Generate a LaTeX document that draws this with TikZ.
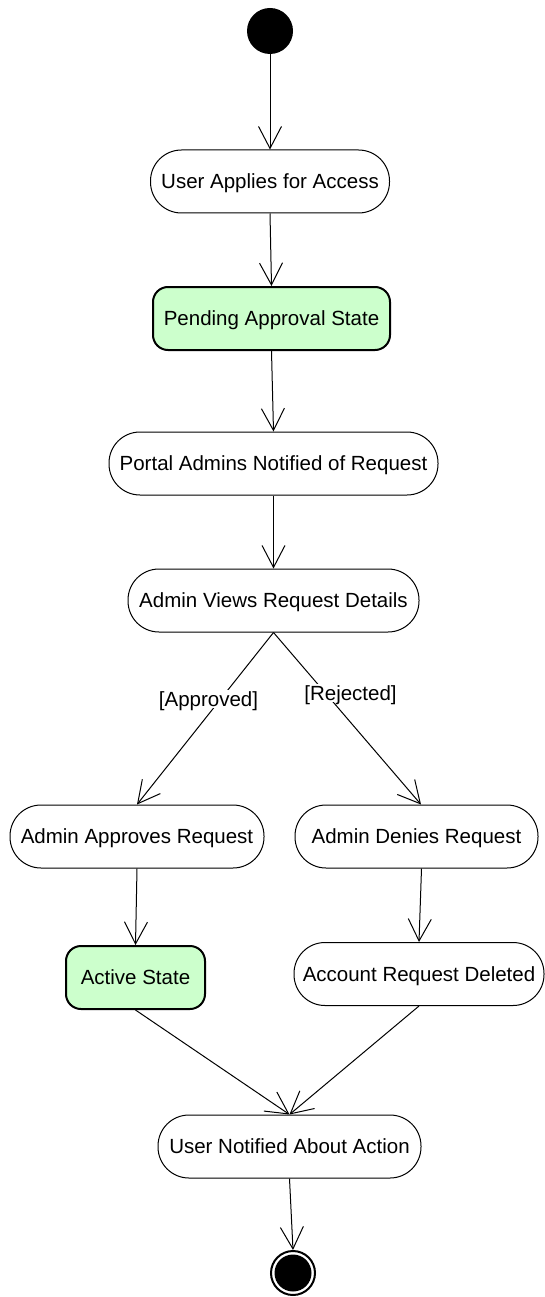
\documentclass[tikz,border=0pt]{standalone}
\usepackage{fontspec}
\setmainfont{Liberation Sans}
\usetikzlibrary{arrows.meta}
\definecolor{stategreen}{RGB}{204,255,204}
\tikzset{
  labelfont/.style={font=\fontsize{20.5}{24}\selectfont, text height=14.7pt, text depth=0pt},
  activity/.style={draw, line width=1pt, fill=white, rounded corners=31pt,
    minimum height=63pt, inner sep=0pt, labelfont},
  statebox/.style={draw, line width=2pt, fill=stategreen, rounded corners=15pt,
    minimum height=63pt, inner sep=0pt, labelfont},
  flow/.style={line width=1pt, -{Straight Barb[length=22pt,width=23pt,line width=1pt]}},
  guard/.style={fill=white, inner sep=2pt, labelfont}
}
\begin{document}
\begin{tikzpicture}[x=1pt,y=-1pt]
\useasboundingbox (0,0) rectangle (545,1297);

% initial and final nodes
\node[circle, fill=black, minimum size=46pt, inner sep=0pt] (start) at (270,31) {};
\node[circle, draw, line width=2pt, minimum size=44pt, inner sep=0pt] (finish) at (293,1273) {};
\fill[black] (finish.center) circle (18.5pt);

% actions and states
\node[activity, minimum width=239pt] (apply) at (270,181.5) {User Applies for Access};
\node[statebox, minimum width=237pt] (pending) at (271.5,318.5) {Pending Approval State};
\node[activity, minimum width=329pt] (portal) at (273.5,463.5) {Portal Admins Notified of Request};
\node[activity, minimum width=291pt] (views) at (273.5,600.5) {Admin Views Request Details};
\node[activity, minimum width=254pt] (approve) at (137,836.5) {Admin Approves Request};
\node[activity, minimum width=243pt] (deny) at (416.5,836.5) {Admin Denies Request};
\node[statebox, minimum width=139pt] (active) at (135.5,977.5) {Active State};
\node[activity, minimum width=250pt] (deleted) at (419,974) {Account Request Deleted};
\node[activity, minimum width=263pt] (notify) at (289.5,1146.5) {User Notified About Action};

% control flows
\draw[flow] (start) -- (apply.north);
\draw[flow] (apply.south) -- (pending.north);
\draw[flow] (pending.south) -- (portal.north);
\draw[flow] (portal.south) -- (views.north);
\draw[flow] (views.south) -- (approve.north);
\draw[flow] (views.south) -- ([xshift=4.5pt]deny.north);
\draw[flow] (approve.south) -- (active.north);
\draw[flow] ([xshift=5pt]deny.south) -- (deleted.north);
\draw[flow] (active.south) -- (notify.north);
\draw[flow] (deleted.south) -- (notify.north);
\draw[flow] (notify.south) -- (finish.north);

% guards
\node[guard] (gapp) at (208.5,699) {[Approved]};
\node[guard] (grej) at (350.5,693) {[Rejected]};
\end{tikzpicture}
\end{document}
